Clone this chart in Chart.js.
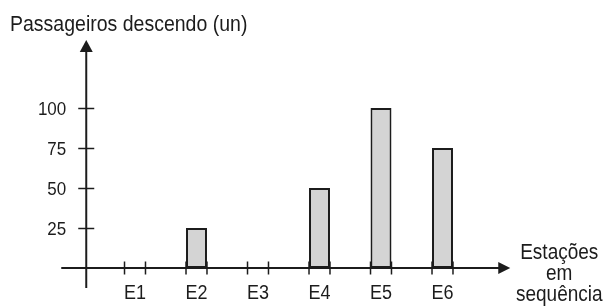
<!DOCTYPE html>
<html>
<head>
<meta charset="utf-8">
<script src="https://cdn.jsdelivr.net/npm/chart.js@4.4.1/dist/chart.umd.min.js"></script>
<style>
html,body{margin:0;padding:0;background:#fff;}
#wrap{width:607px;height:307px;position:relative;}
</style>
</head>
<body>
<div id="wrap"><canvas id="c"></canvas></div>
<script>
const categories = ['E1', 'E2', 'E3', 'E4', 'E5', 'E6'];
const passengers = [0, 25, 0, 50, 100, 75];
const yTickValues = [25, 50, 75, 100];
const yTitle = 'Passageiros descendo (un)';
const xTitleLines = ['Estações', 'em', 'sequência'];

const INK = '#1c1c1c';
const FONT = '"Liberation Sans", Arial, sans-serif';
const STRETCH = 1.12;

function drawText(ctx, s, x, y) {
  ctx.save();
  ctx.translate(x, y);
  ctx.scale(1, STRETCH);
  ctx.fillText(s, 0, 0);
  ctx.restore();
}

const axesPlugin = {
  id: 'axesPlugin',
  afterDatasetsDraw(chart) {
    const ctx = chart.ctx;
    const xs = chart.scales.x;
    const ys = chart.scales.y;
    const y0 = ys.getPixelForValue(0);
    const axisX = xs.left - 18;
    ctx.save();
    ctx.strokeStyle = INK;
    ctx.fillStyle = INK;
    ctx.lineCap = 'butt';

    // y axis
    const yTop = ys.getPixelForValue(ys.max) - 4;
    ctx.lineWidth = 2;
    ctx.beginPath();
    ctx.moveTo(axisX, y0 + 20);
    ctx.lineTo(axisX, yTop + 10);
    ctx.stroke();
    ctx.beginPath();
    ctx.moveTo(axisX, yTop);
    ctx.lineTo(axisX - 6.5, yTop + 12);
    ctx.lineTo(axisX + 6.5, yTop + 12);
    ctx.closePath();
    ctx.fill();

    // x axis
    const xEnd = xs.right + 37;
    ctx.beginPath();
    ctx.moveTo(axisX - 25, y0);
    ctx.lineTo(xEnd - 10, y0);
    ctx.stroke();
    ctx.beginPath();
    ctx.moveTo(xEnd, y0);
    ctx.lineTo(xEnd - 12, y0 - 6);
    ctx.lineTo(xEnd - 12, y0 + 6);
    ctx.closePath();
    ctx.fill();

    // y ticks + labels
    ctx.lineWidth = 1.5;
    ctx.font = '17px ' + FONT;
    ctx.textAlign = 'right';
    ctx.textBaseline = 'middle';
    yTickValues.forEach(v => {
      const py = Math.round(ys.getPixelForValue(v)) + 0.5;
      ctx.beginPath();
      ctx.moveTo(axisX - 8, py);
      ctx.lineTo(axisX + 8, py);
      ctx.stroke();
      drawText(ctx, String(v), axisX - 20, py + 1);
    });

    // x ticks at bar edges + labels
    const meta = chart.getDatasetMeta(0);
    ctx.font = '18px ' + FONT;
    ctx.textAlign = 'center';
    ctx.textBaseline = 'alphabetic';
    meta.data.forEach((bar, i) => {
      const p = bar.getProps(['x', 'width'], true);
      [p.x - p.width / 2, p.x + p.width / 2].forEach(ex => {
        ctx.beginPath();
        ctx.moveTo(ex, y0 - 6.5);
        ctx.lineTo(ex, y0 + 6.5);
        ctx.stroke();
      });
      drawText(ctx, categories[i], p.x, y0 + 31);
    });

    // titles
    ctx.font = '19.5px ' + FONT;
    ctx.textAlign = 'left';
    drawText(ctx, yTitle, 10, 31);
    ctx.font = '19px ' + FONT;
    ctx.textAlign = 'center';
    const cx = xEnd + 49;
    xTitleLines.forEach((t, i) => drawText(ctx, t, cx, y0 - 9 + i * 21));
    ctx.restore();
  }
};

new Chart(document.getElementById('c'), {
  type: 'bar',
  data: {
    labels: categories,
    datasets: [{
      data: passengers,
      backgroundColor: '#d4d4d4',
      borderColor: INK,
      borderWidth: 2,
      borderSkipped: false,
      barPercentage: 1,
      categoryPercentage: 0.341
    }]
  },
  options: {
    responsive: true,
    maintainAspectRatio: false,
    animation: false,
    events: [],
    layout: { padding: { left: 104.25, right: 133.75, top: 44, bottom: 39 } },
    plugins: { legend: { display: false }, tooltip: { enabled: false } },
    scales: {
      x: { display: false, offset: true },
      y: { display: false, min: 0, max: 140 }
    }
  },
  plugins: [axesPlugin]
});
</script>
</body>
</html>
